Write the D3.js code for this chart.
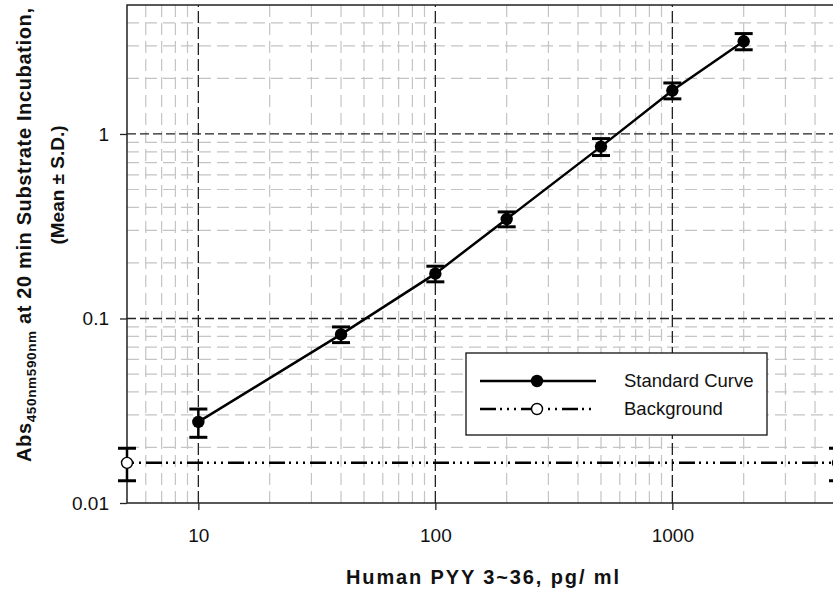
<!DOCTYPE html>
<html><head><meta charset="utf-8">
<script src="https://cdn.jsdelivr.net/npm/d3@7"></script>
<style>body{margin:0;background:#fff;overflow:hidden} svg{display:block}</style>
</head><body><svg id="c" width="833" height="594"></svg>
<script>
// ---- data ----
const concentrations = [10, 40, 100, 200, 500, 1000, 2000];
const absMean = [0.0275, 0.082, 0.175, 0.346, 0.854, 1.72, 3.18];
const absSD = [0.0048, 0.008, 0.017, 0.032, 0.09, 0.17, 0.32];
const backgroundX = [5, 5000];
const backgroundMean = [0.0165, 0.0165];
const backgroundSD = [0.0033, 0.0033];
const xTicks = [10, 100, 1000];
const xTickLabels = ["10", "100", "1000"];
const yTicks = [0.01, 0.1, 1];
const yTickLabels = ["0.01", "0.1", "1"];
const xDomain = [5, 5000];
const yDomain = [0.01, 5];
const seriesNames = ["Standard Curve", "Background"];
const xTitle = "Human PYY 3~36, pg/ ml";

// ---- layout ----
const L = 127, R = 838, T = 5, B = 503;
const font = "Arial, 'Liberation Sans', sans-serif";
const svg = d3.select("#c");
const x = d3.scaleLog().domain(xDomain).range([L, R]);
const y = d3.scaleLog().domain(yDomain).range([B, T]);

svg.append("defs").append("clipPath").attr("id", "plot")
  .append("rect").attr("x", L).attr("y", T).attr("width", R - L).attr("height", B - T);

const grid = svg.append("g").attr("clip-path", "url(#plot)");
const isMajorX = v => xTicks.some(t => Math.abs(t - v) / t < 1e-6);
const isMajorY = v => yTicks.some(t => Math.abs(t - v) / t < 1e-6);
const xMinor = x.ticks().filter(v => !isMajorX(v) && v > xDomain[0] * 1.001 && v < xDomain[1] * 0.999);
const yMinor = y.ticks().filter(v => !isMajorY(v) && v > yDomain[0] * 1.001 && v < yDomain[1] * 0.999);

grid.selectAll("line.hmin").data(yMinor).join("line")
  .attr("x1", L).attr("x2", R).attr("y1", d => y(d)).attr("y2", d => y(d))
  .attr("stroke", "#c4c4c4").attr("stroke-width", 1.2).attr("stroke-dasharray", "12,6");
grid.selectAll("line.vmin").data(xMinor).join("line")
  .attr("y1", B).attr("y2", T).attr("x1", d => x(d)).attr("x2", d => x(d))
  .attr("stroke", "#c4c4c4").attr("stroke-width", 1.2).attr("stroke-dasharray", "12,6");
grid.selectAll("line.hmaj").data(yTicks.filter(v => v > yDomain[0])).join("line")
  .attr("x1", L).attr("x2", R).attr("y1", d => y(d)).attr("y2", d => y(d))
  .attr("stroke", "#222").attr("stroke-width", 1.3).attr("stroke-dasharray", "9,4");
grid.selectAll("line.vmaj").data(xTicks).join("line")
  .attr("y1", B).attr("y2", T).attr("x1", d => x(d)).attr("x2", d => x(d))
  .attr("stroke", "#222").attr("stroke-width", 1.3).attr("stroke-dasharray", "12,4");

// ---- axes ----
const xAxis = d3.axisBottom(x).tickValues(xTicks).tickFormat((d, i) => xTickLabels[i]).tickSize(7).tickPadding(19);
const yAxis = d3.axisLeft(y).tickValues(yTicks).tickFormat((d, i) => yTickLabels[i]).tickSize(7).tickPadding(11);
const gx = svg.append("g").attr("transform", `translate(0,${B})`).call(xAxis);
const gy = svg.append("g").attr("transform", `translate(${L},0)`).call(yAxis);
[gx, gy].forEach(g => {
  g.select(".domain").remove();
  g.selectAll(".tick line").attr("stroke", "#222").attr("stroke-width", 1.3);
  g.selectAll(".tick text").attr("font-family", font).attr("font-size", 19).attr("fill", "#111");
});
// frame
svg.append("rect").attr("x", L).attr("y", T).attr("width", R - L).attr("height", B - T)
  .attr("fill", "none").attr("stroke", "#222").attr("stroke-width", 1.5);

// ---- background series ----
const bgPattern = "16,4,2,5,2,5,2,5";
const bg = backgroundX.map((v, i) => ({x: v, m: backgroundMean[i], s: backgroundSD[i]}));
svg.append("path").datum(bg)
  .attr("d", d3.line().x(d => x(d.x)).y(d => y(d.m)))
  .attr("fill", "none").attr("stroke", "#000").attr("stroke-width", 2.5)
  .attr("stroke-dasharray", bgPattern).attr("stroke-dashoffset", 22);

function errorBars(data) {
  const g = svg.append("g");
  data.forEach(d => {
    const cx = x(d.x), yt = y(d.m + d.s), yb = y(d.m - d.s);
    g.append("line").attr("x1", cx).attr("x2", cx).attr("y1", yt).attr("y2", yb)
      .attr("stroke", "#000").attr("stroke-width", 2.5);
    [yt, yb].forEach(yy => g.append("line").attr("x1", cx - 9).attr("x2", cx + 9)
      .attr("y1", yy).attr("y2", yy).attr("stroke", "#000").attr("stroke-width", 3));
  });
}
errorBars(bg);

// ---- standard curve ----
const sc = concentrations.map((v, i) => ({x: v, m: absMean[i], s: absSD[i]}));
errorBars(sc);
svg.append("path").datum(sc)
  .attr("d", d3.line().x(d => x(d.x)).y(d => y(d.m)))
  .attr("fill", "none").attr("stroke", "#000").attr("stroke-width", 2.5);
svg.selectAll("circle.sc").data(sc).join("circle")
  .attr("cx", d => x(d.x)).attr("cy", d => y(d.m)).attr("r", 6.2).attr("fill", "#000");
svg.selectAll("circle.bg").data(bg).join("circle")
  .attr("cx", d => x(d.x)).attr("cy", d => y(d.m)).attr("r", 5.5)
  .attr("fill", "#fff").attr("stroke", "#000").attr("stroke-width", 1.4);

// ---- legend ----
const lg = svg.append("g");
lg.append("rect").attr("x", 466).attr("y", 353).attr("width", 301).attr("height", 82)
  .attr("fill", "#fff").attr("stroke", "#111").attr("stroke-width", 1.3);
lg.append("line").attr("x1", 480).attr("x2", 596).attr("y1", 381).attr("y2", 381)
  .attr("stroke", "#000").attr("stroke-width", 2.5);
lg.append("circle").attr("cx", 537).attr("cy", 381).attr("r", 6.2).attr("fill", "#000");
lg.append("line").attr("x1", 480).attr("x2", 592).attr("y1", 409).attr("y2", 409)
  .attr("stroke", "#000").attr("stroke-width", 2.5).attr("stroke-dasharray", bgPattern);
lg.append("circle").attr("cx", 537).attr("cy", 409).attr("r", 5.5)
  .attr("fill", "#fff").attr("stroke", "#000").attr("stroke-width", 1.4);
lg.selectAll("text").data(seriesNames).join("text")
  .attr("x", 624).attr("y", (d, i) => 387 + i * 28)
  .attr("font-family", font).attr("font-size", 18.5).attr("fill", "#111").text(d => d);

// ---- titles ----
svg.append("text").attr("x", (L + R) / 2).attr("y", 584).attr("text-anchor", "middle")
  .attr("font-family", font).attr("font-size", 20).attr("font-weight", "bold").attr("fill", "#111")
  .attr("textLength", 273).attr("lengthAdjust", "spacing").text(xTitle);

const yt1 = svg.append("text").attr("transform", "translate(31,235) rotate(-90)")
  .attr("text-anchor", "middle").attr("font-family", font).attr("font-weight", "bold")
  .attr("font-size", 20).attr("fill", "#111").attr("textLength", 454).attr("lengthAdjust", "spacing");
yt1.append("tspan").text("Abs");
yt1.append("tspan").attr("font-size", 13.5).attr("dy", 5).text("450nm590nm");
yt1.append("tspan").attr("dy", -5).text(" at 20 min Substrate Incubation,");

svg.append("text").attr("transform", "translate(64,185) rotate(-90)")
  .attr("text-anchor", "middle").attr("font-family", font).attr("font-weight", "bold")
  .attr("font-size", 19).attr("fill", "#111").text("(Mean ± S.D.)");
</script></body></html>
